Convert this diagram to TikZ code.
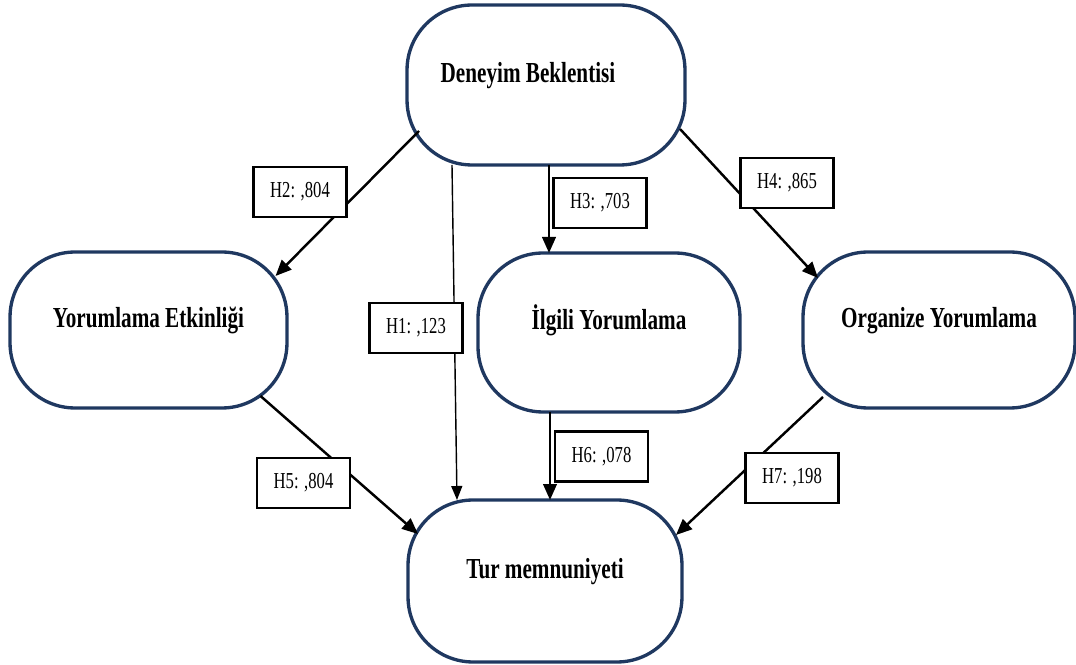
\documentclass[tikz,border=0pt]{standalone}
\usepackage{fontspec}
\setmainfont{Liberation Serif}[FakeStretch=0.73]
\usetikzlibrary{arrows.meta,calc}
\definecolor{darknavy}{RGB}{31,56,96}

\tikzset{
  factor/.style={rectangle,rounded corners=1.3cm,draw=darknavy,line width=1.9pt,fill=white,
    text height=0.4cm,text depth=0.51cm,font=\fontsize{16.5}{19}\selectfont\bfseries},
  hyplabel/.style={rectangle,draw=black,line width=1.4pt,fill=white,inner sep=0pt,
    minimum width=1.86cm,minimum height=1cm,font=\fontsize{13}{15}\selectfont},
}

\begin{document}
\begin{tikzpicture}[x=0.02cm,y=-0.02cm]
  \useasboundingbox (0,0) rectangle (1076,665);

  \node[factor,minimum width=5.56cm,minimum height=3.2cm] (deneyim) at (546,85) {\hspace*{-0.72cm}Deneyim Beklentisi};
  \node[factor,minimum width=5.54cm,minimum height=3.12cm] (yorum) at (148.5,330) {Yorumlama Etkinliği};
  \node[factor,minimum width=5.24cm,minimum height=3.18cm] (ilgili) at (609,332.5) {İlgili Yorumlama};
  \node[factor,minimum width=5.44cm,minimum height=3.12cm] (organize) at (939,330) {Organize Yorumlama};
  \node[factor,minimum width=5.48cm,minimum height=3.24cm] (tur) at (545,581) {Tur memnuniyeti};

  \begin{scope}[line width=1.4pt,>={Triangle[length=0.32cm,width=0.27cm]}]
      % H2:
      \draw ($(deneyim)+(-127,46)$) edge[->] ($(yorum)+(127,-54)$);
      % H3:
      \draw ($(deneyim)+(3,80)$) edge[->] ($(ilgili)+(-60,-79.5)$);
      % H4:
      \draw ($(deneyim)+(134,44)$) edge[->] ($(organize)+(-121,-52)$);
      % H5:
      \draw ($(yorum)+(112,66)$) edge[->] ($(tur)+(-127,-47)$);
      % H6:
      \draw ($(ilgili)+(-59,79.5)$) edge[->] ($(tur)+(5,-81)$);
      % H7:
      \draw ($(organize)+(-116,67)$) edge[->] ($(tur)+(131,-46)$);
  \end{scope}
  \begin{scope}[line width=0.8pt,>={Triangle[length=0.28cm,width=0.22cm]}]
      % H1:
      \draw ($(deneyim)+(-94,80)$) edge[->] ($(tur)+(-88,-81)$);
  \end{scope}

  \node[hyplabel] (h1) at (416,328) {H1: ,123};
  \node[hyplabel] (h2) at (300,192) {H2: ,804};
  \node[hyplabel] (h3) at (600,203) {H3: ,703};
  \node[hyplabel] (h4) at (787,183) {H4: ,865};
  \node[hyplabel] (h5) at (303.5,483) {H5: ,804};
  \node[hyplabel] (h6) at (601.5,456.5) {H6: ,078};
  \node[hyplabel] (h7) at (792,478) {H7: ,198};
\end{tikzpicture}
\end{document}
